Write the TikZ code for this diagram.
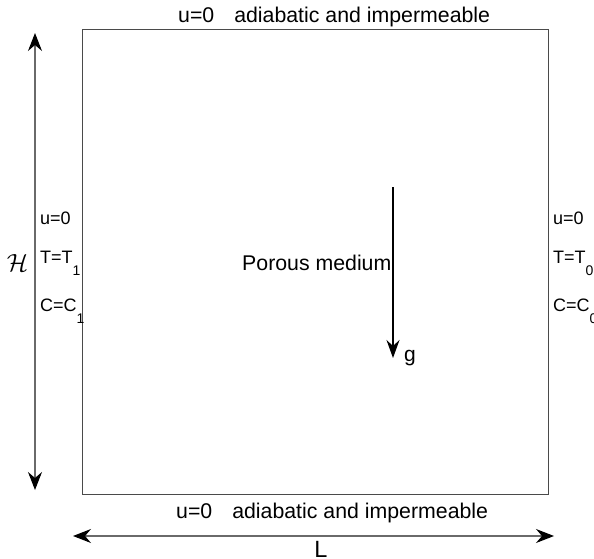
\documentclass[tikz,border=0pt]{standalone}
\usepackage{fontspec}
\setmainfont{Liberation Sans}
\usetikzlibrary{arrows.meta, positioning}
\definecolor{wallGray}{HTML}{4A4A4A}
\definecolor{dimGray}{HTML}{6A6A6A}
\newcommand{\lowsub}[1]{\raisebox{-12pt}{\fontsize{14}{14}\selectfont #1}}

\begin{document}
\begin{tikzpicture}[x=1pt, y=-1pt,
    walltext/.style={inner sep=0, anchor=base west, font=\fontsize{21.3}{25}\selectfont},
    sidelbl/.style={inner sep=0, anchor=base west, font=\fontsize{18}{22}\selectfont},
    tipS/.style={Stealth[length=18pt, width=14pt, inset=6pt, black]},
    dimarrow/.style={dimGray, line width=1.1pt, {Stealth[length=18pt, width=14pt, inset=6pt, black]}-{Stealth[length=18pt, width=14pt, inset=6pt, black]}},
    gravarrow/.style={black, line width=1.1pt, -{Stealth[length=18pt, width=13pt, inset=6pt]}}]
    \useasboundingbox (0,0) rectangle (594,559);

    % porous cavity
    \node[draw=wallGray, line width=1.1pt, inner sep=0, minimum width=466pt, minimum height=465pt,
      anchor=north west] (cavity) at (82,29) {};
    \node[walltext] (topwall) at (178,23) {u=0\hspace{20pt}adiabatic and impermeable};
    \node[walltext] (botwall) at (176,518) {u=0\hspace{20pt}adiabatic and impermeable};
    \node[walltext] (medium) at (242,270) {Porous medium};

    % hot / cold walls
    \node[sidelbl] (uleft) at (40,224) {u=0};
    \node[sidelbl] (Tleft) at (40,263) {T=T\lowsub{1}};
    \node[sidelbl] (Cleft) at (40,311) {C=C\lowsub{1}};
    \node[sidelbl] (uright) at (553,224) {u=0};
    \node[sidelbl] (Tright) at (553,263) {T=T\lowsub{0}};
    \node[sidelbl] (Cright) at (553,311) {C=C\lowsub{0}};

    % dimensions
    \coordinate (Htop) at (35,33);
    \coordinate (Hbot) at (35,490);
    \draw[dimarrow] (Hbot) -- (Htop);
    \node[inner sep=0, anchor=base, font=\fontsize{25}{30}\selectfont] (Hlbl) at (17.5,271) {$\mathcal{H}$};
    \coordinate (Lleft) at (73,536);
    \coordinate (Lright) at (554,536);
    \draw[dimarrow] (Lleft) -- (Lright);
    \node[inner sep=0, anchor=base, font=\fontsize{23.5}{28}\selectfont] (Llbl) at (321,557) {L};

    % gravity
    \coordinate (gtail) at (393,187);
    \coordinate (ghead) at (393,358);
    \draw[gravarrow] (gtail) -- (ghead);
    \node[inner sep=0, anchor=base west, font=\fontsize{21}{25}\selectfont] (glbl) at (404,361) {g};
\end{tikzpicture}
\end{document}
